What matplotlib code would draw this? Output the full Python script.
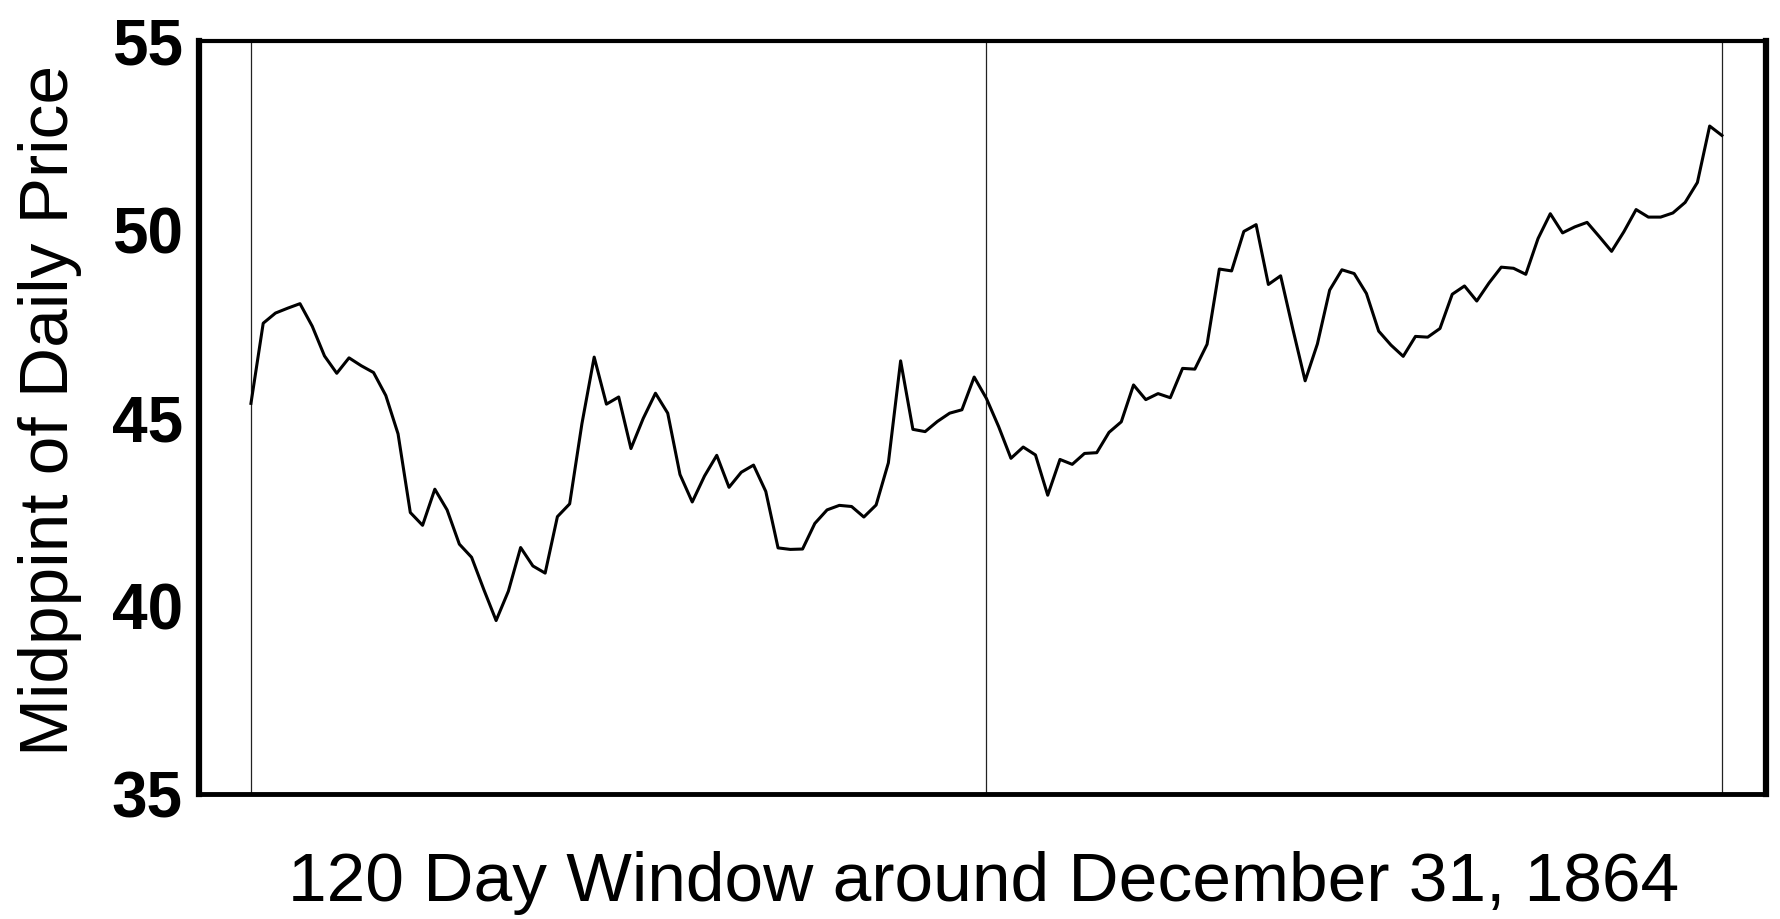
import numpy as np
import matplotlib.pyplot as plt

plt.rcParams['font.family'] = ['Liberation Sans', 'DejaVu Sans']

# дни окна: -60 .. 60 вокруг 31 декабря 1864
days = np.arange(-60, 61)

# середина дневной цены
price = [45.38, 47.51, 47.78, 47.91, 48.03, 47.43, 46.64, 46.18, 46.59, 46.38,
         46.20, 45.59, 44.57, 42.48, 42.14, 43.10, 42.55, 41.64, 41.29, 40.43,
         39.61, 40.39, 41.55, 41.06, 40.87, 42.37, 42.71, 44.84, 46.61, 45.36,
         45.55, 44.18, 44.98, 45.65, 45.12, 43.49, 42.76, 43.45, 44.00, 43.15,
         43.55, 43.74, 43.04, 41.54, 41.50, 41.51, 42.19, 42.55, 42.67, 42.64,
         42.36, 42.68, 43.80, 46.51, 44.69, 44.63, 44.90, 45.12, 45.21, 46.08,
         45.51, 44.76, 43.92, 44.22, 44.01, 42.94, 43.89, 43.76, 44.05, 44.07,
         44.61, 44.89, 45.87, 45.48, 45.64, 45.53, 46.31, 46.29, 46.95, 48.95,
         48.90, 49.95, 50.13, 48.54, 48.77, 47.35, 45.98, 46.96, 48.39, 48.93,
         48.83, 48.30, 47.30, 46.93, 46.63, 47.16, 47.14, 47.37, 48.28, 48.50,
         48.10, 48.58, 49.00, 48.97, 48.81, 49.76, 50.42, 49.91, 50.07, 50.19,
         49.81, 49.42, 49.94, 50.53, 50.33, 50.33, 50.44, 50.72, 51.25, 52.75,
         52.50]

marker_days = [-60, 0, 60]
yticks = [35, 40, 45, 50, 55]

fig = plt.figure(figsize=(17.81, 9.19), dpi=100)
ax = fig.add_axes([0.112, 0.136, 0.8796, 0.819])

for d in marker_days:
    ax.axvline(d, color='#222222', lw=0.9)
ax.plot(days, price, color='black', lw=2.2)

ax.set_xlim(-64.2, 63.6)
ax.set_ylim(35, 55)
ax.set_xticks([])
ax.set_yticks(yticks)
ax.set_yticklabels([str(t) for t in yticks], fontsize=46, fontweight='bold')
ax.tick_params(axis='y', length=0, pad=12)

ax.spines['left'].set_linewidth(4.5)
ax.spines['right'].set_linewidth(4.5)
ax.spines['top'].set_linewidth(3)
ax.spines['bottom'].set_linewidth(3.5)

fig.text(0.028, 0.553, 'Midppint of Daily Price', rotation=90,
         ha='center', va='center', fontsize=50)
fig.text(0.552, 0.02, '120 Day Window around December 31, 1864',
         ha='center', va='baseline', fontsize=50)

fig.savefig('out.png', dpi=100)
